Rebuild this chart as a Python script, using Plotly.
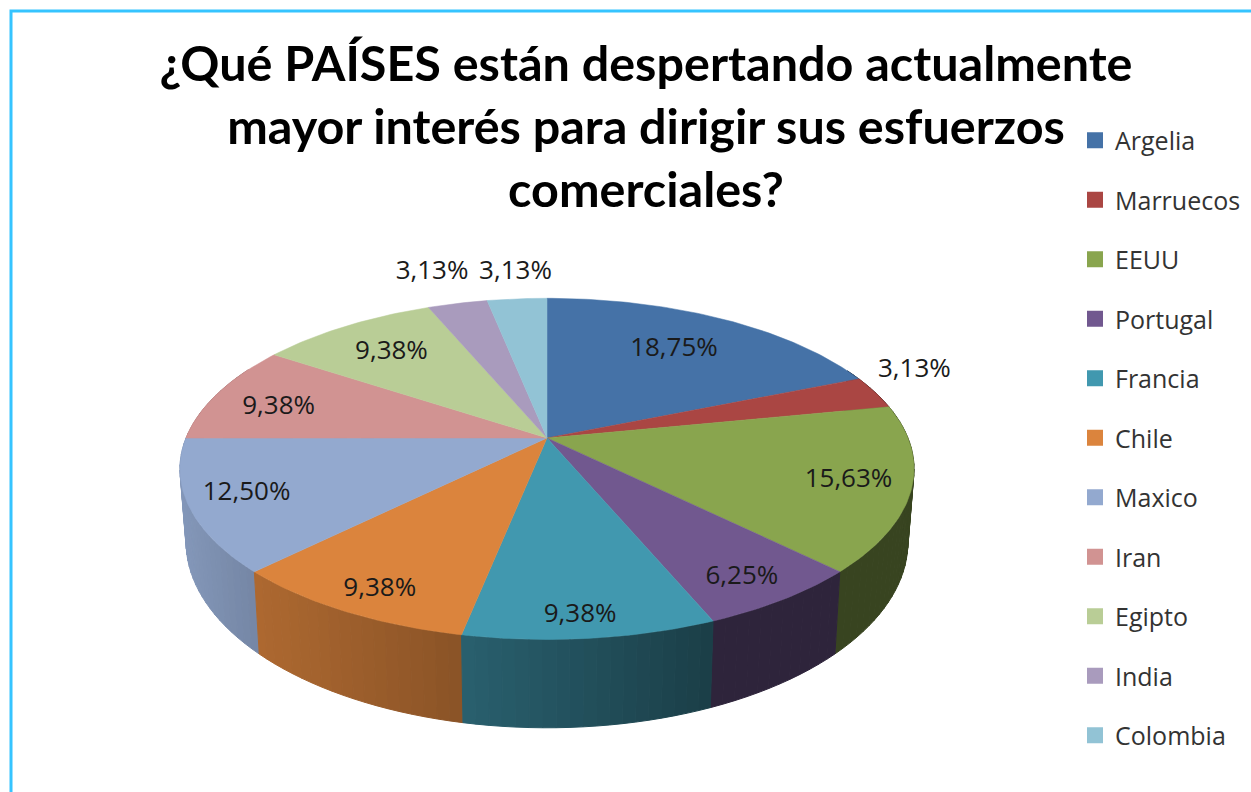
import math
import plotly.graph_objects as go

# ---------- data ----------
categories = ["Argelia", "Marruecos", "EEUU", "Portugal", "Francia", "Chile",
              "Maxico", "Iran", "Egipto", "India", "Colombia"]
values = [18.75, 3.13, 15.63, 6.25, 9.38, 9.38, 12.50, 9.38, 9.38, 3.13, 3.13]
colors = ["#4572A7", "#AA4643", "#89A54E", "#71588F", "#4198AF", "#DB843D",
          "#93A9CF", "#D19392", "#B9CD96", "#A99BBD", "#92C3D5"]
title_lines = ["¿Qué PAÍSES están despertando actualmente",
               "mayor interés para dirigir sus esfuerzos",
               "comerciales?"]

# ---------- layout of the perspective pie ----------
W, H = 1251, 792
CX, TOP_Y, BOT_Y = 547, 438, 508
A_TOP, B_TOP, K = 361, 165, 0.181
A_BOT, B_BOT = 355, 180
# label placement: radial factor + pixel nudge, one per slice
label_r = [0.70, 1.13, 0.80, 0.87, 0.90, 0.85, 0.80, 0.75, 0.75, 1.10, 1.10]
label_nudge = [(0, -2), (-1, -16), (13, 3), (-6, 2), (-5, 1), (0, 8), (-18, 2),
               (-19, 4), (0, 1), (-18, -20), (1, -15)]


def project(theta, r=1.0, top=True):
    X, Y = r * math.sin(theta), r * math.cos(theta)
    d = 1 + K * Y
    if top:
        return CX + A_TOP * X / d, TOP_Y - B_TOP * Y / d
    return CX + A_BOT * X / d, BOT_Y - B_BOT * Y / d


def shade(hex_color, px):
    stops = [(180, .90), (260, .79), (463, .63), (710, .41), (1300, .41)]
    f = stops[0][1]
    for (x0, f0), (x1, f1) in zip(stops, stops[1:]):
        if x0 <= px <= x1:
            f = f0 + (f1 - f0) * (px - x0) / (x1 - x0)
    rgb = [int(hex_color[i:i + 2], 16) for i in (1, 3, 5)]
    return "rgb(%d,%d,%d)" % tuple(round(c * f) for c in rgb)


total = sum(values)
edges = [0.0]
for v in values:
    edges.append(edges[-1] + v)
to_angle = lambda c: 2 * math.pi * c / total

fig = go.Figure()

# side walls, back to front
quads = []
for i, v in enumerate(values):
    steps = max(2, int(round(v * 2)))
    for s in range(steps):
        t0 = to_angle(edges[i] + v * s / steps)
        t1 = to_angle(edges[i] + v * (s + 1) / steps)
        quads.append((math.cos((t0 + t1) / 2), i, t0, t1))
quads = [q for q in quads if q[0] < 0.45]
quads.sort(key=lambda q: -q[0])
for _, i, t0, t1 in quads:
    p = [project(t0), project(t1), project(t1, top=False), project(t0, top=False)]
    xs = [c[0] for c in p] + [p[0][0]]
    ys = [c[1] for c in p] + [p[0][1]]
    col = shade(colors[i], sum(xs[:4]) / 4)
    fig.add_trace(go.Scatter(x=xs, y=ys, mode="lines", fill="toself", fillcolor=col,
                             line=dict(color=col, width=1), hoverinfo="skip",
                             showlegend=False))

# top faces
for i, v in enumerate(values):
    n = max(4, int(v * 4))
    arc = [project(to_angle(edges[i] + v * s / n)) for s in range(n + 1)]
    cx, cy = project(0, r=0)
    xs = [cx] + [a[0] for a in arc] + [cx]
    ys = [cy] + [a[1] for a in arc] + [cy]
    fig.add_trace(go.Scatter(x=xs, y=ys, mode="lines", fill="toself", fillcolor=colors[i],
                             line=dict(color=colors[i], width=0.5), name=categories[i],
                             hoverinfo="skip", showlegend=False))

# data labels
lx, ly, lt = [], [], []
for i, v in enumerate(values):
    x, y = project(to_angle(edges[i] + v / 2), r=label_r[i])
    lx.append(x + label_nudge[i][0])
    ly.append(y + label_nudge[i][1])
    lt.append(f"{v:.2f}%".replace(".", ","))
fig.add_trace(go.Scatter(x=lx, y=ly, text=lt, mode="text", showlegend=False, hoverinfo="skip",
                         textposition="middle center",
                         textfont=dict(family="Open Sans", size=26, color="#1a1a1a")))

# legend entries
for i, c in enumerate(categories):
    fig.add_trace(go.Scatter(x=[None], y=[None], mode="markers", name=c, legendgroup=c,
                             marker=dict(symbol="square", size=16, color=colors[i])))

fig.update_layout(
    width=W, height=H, autosize=False,
    margin=dict(l=0, r=0, t=0, b=0),
    paper_bgcolor="white", plot_bgcolor="white",
    xaxis=dict(range=[0, W], visible=False, fixedrange=True),
    yaxis=dict(range=[H, 0], visible=False, fixedrange=True),
    title=dict(text="<br>".join(title_lines), x=646 / W, xanchor="center",
               y=1 - 81 / H, yanchor="top",
               font=dict(family="Lato", size=48.5, color="black", weight="bold")),
    legend=dict(x=1075 / W, xanchor="left", y=1 - 117.5 / H, yanchor="top",
                tracegroupgap=24, itemsizing="trace", itemwidth=30,
                bgcolor="rgba(0,0,0,0)",
                font=dict(family="Open Sans", size=25, color="#333333")),
    shapes=[dict(type="rect", xref="x", yref="y", x0=11, y0=11, x1=W + 20, y1=H + 20,
                 line=dict(color="#35C4FF", width=3), layer="below")],
)
fig.write_html("out.html", config={"displayModeBar": False},
               post_script="document.body.style.margin='0';document.documentElement.style.overflow='hidden';")
